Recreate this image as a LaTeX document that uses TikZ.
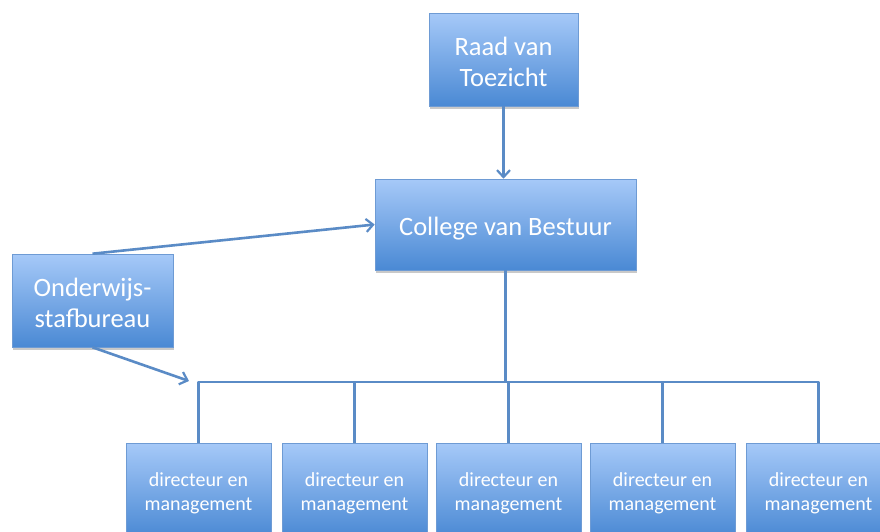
\documentclass[tikz,border=0pt]{standalone}
\usepackage{fontspec}
\setmainfont{Carlito}
\usetikzlibrary{arrows.meta,shadows}
\definecolor{boxtop}{HTML}{A6C9F8}
\definecolor{boxbot}{HTML}{4A89D4}
\definecolor{boxedge}{HTML}{6E9BD4}
\definecolor{linec}{HTML}{5A8BC6}
\tikzset{
  orgbox/.style={rectangle, top color=boxtop, bottom color=boxbot, draw=boxedge, line width=0.6pt,
    inner sep=0pt,
    drop shadow={opacity=0.35, shadow xshift=1pt, shadow yshift=-2.5pt, fill=black!60}},
  txt/.style={text=white, align=center, inner sep=0pt},
  bigtext/.style={txt, font=\fontsize{26.5}{31}\selectfont},
  smalltext/.style={txt, font=\fontsize{20}{24}\selectfont},
  conn/.style={draw=linec, line width=2.6pt},
  arr/.style={conn, -{Straight Barb[length=7pt,width=13pt,line width=2.2pt]}}
}
\begin{document}
\begin{tikzpicture}[x=1pt,y=-1pt]
\fill[white] (0,0) rectangle (880,531);
\useasboundingbox (0,0) rectangle (880,531);
\clip (0,0) rectangle (880,531);

\node[orgbox,minimum width=149pt,minimum height=93pt] (raad) at (503.5,59.5) {};
\node[bigtext] (raadtxt) at ([yshift=-2.5pt]raad.center) {Raad van\\Toezicht};
\node[orgbox,minimum width=261pt,minimum height=91pt] (college) at (505.5,224.5) {};
\node[bigtext] (collegetxt) at ([yshift=-4pt]college.center) {College van Bestuur};
\node[orgbox,minimum width=161pt,minimum height=93pt] (onder) at (92.5,300.5) {};
\node[bigtext] (ondertxt) at ([yshift=-2.5pt]onder.center) {Onderwijs-\\stafbureau};

\foreach \i/\x in {1/198.5,2/354.5,3/508.5,4/662.5,5/818.5}{
  \node[orgbox,minimum width=145pt,minimum height=94pt] (d\i) at (\x,490) {};
  \node[smalltext] (d\i txt) at ([yshift=-3pt]d\i.center) {directeur en\\management};
}

\coordinate (bus) at (0,382);
\coordinate (tip) at (189,381);

\draw[arr] (raad.south) -- (raad.south |- college.north);
\draw[arr] (onder.north) -- (college.west);
\draw[arr] (onder.south) -- (tip);
\draw[conn] (college.south) -- (college.south |- bus);
\draw[conn, line join=round] (d1.north) -- (d1.north |- bus) -- (d5.north |- bus) -- (d5.north);
\foreach \i in {2,3,4}{
  \draw[conn] (d\i.north) -- (d\i.north |- bus);
}
\end{tikzpicture}
\end{document}
